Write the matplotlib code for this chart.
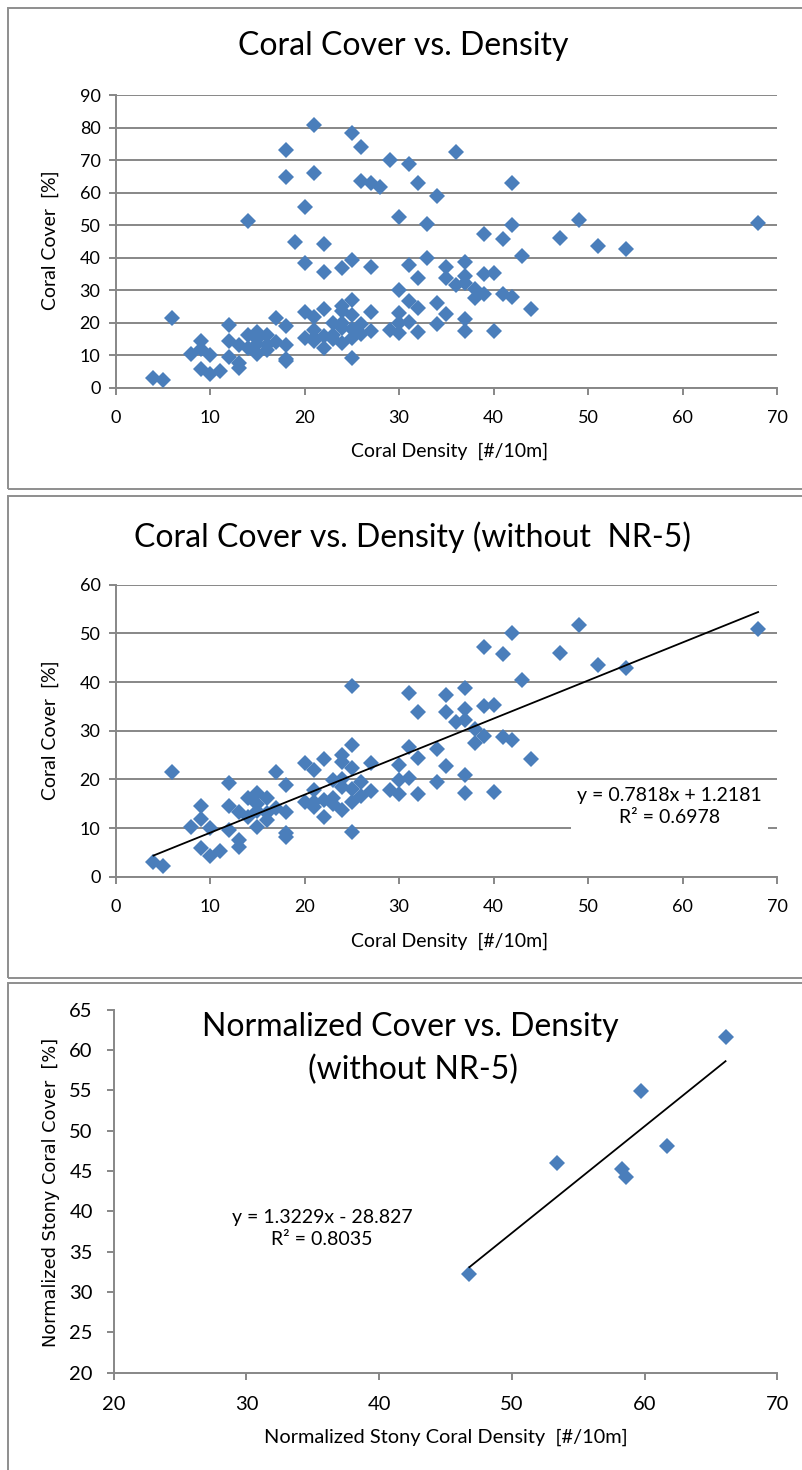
import matplotlib
matplotlib.use("Agg")
import matplotlib.pyplot as plt
from matplotlib.patches import Rectangle

# ---------------------------------------------------------------------------
# Survey data: coral density [#/10m] and coral cover [%] per transect
# ---------------------------------------------------------------------------
# Transects from all sites except NR-5
density = [4, 5, 6, 8,
           9, 9, 9,
           10, 10, 11,
           12, 12, 12,
           13, 13, 13,
           14, 14,
           15, 15, 15, 15,
           16, 16, 16,
           17, 17,
           18, 18, 18, 18,
           20, 20,
           21, 21, 21, 21,
           22, 22, 22,
           23, 23, 23,
           24, 24, 24, 24, 24,
           25, 25, 25, 25, 25, 25,
           26, 26, 27, 27, 29,
           30, 30, 30,
           31, 31, 31,
           32, 32, 32,
           34, 34,
           35, 35, 35, 36,
           37, 37, 37, 37, 37,
           38, 38,
           39, 39, 39,
           40, 40, 41, 41, 42, 42,
           43, 44, 47, 49, 51, 54, 68]
cover = [3.1, 2.3, 21.5, 10.3,
         14.5, 11.8, 5.8,
         10.0, 4.2, 5.2,
         19.2, 14.5, 9.6,
         13.2, 7.5, 6.2,
         16.1, 12.3,
         17.2, 15.0, 13.4, 10.3,
         16.2, 13.0, 11.6,
         21.5, 14.1,
         18.9, 13.2, 8.9, 8.2,
         23.3, 15.4,
         21.9, 17.8, 15.4, 14.3,
         24.2, 15.8, 12.3,
         19.9, 16.2, 15.0,
         25.0, 23.5, 20.0, 18.5, 13.7,
         39.2, 27.0, 22.4, 18.0, 15.3, 9.2,
         19.5, 16.5, 23.3, 17.6, 17.8,
         23.0, 19.9, 16.9,
         37.7, 26.7, 20.2,
         33.9, 24.4, 17.0,
         26.2, 19.5,
         37.3, 33.9, 22.7, 31.7,
         38.7, 34.4, 32.2, 21.0, 17.3,
         30.3, 27.5,
         47.3, 35.0, 28.9,
         35.2, 17.5, 45.8, 28.8, 50.1, 28.0,
         40.5, 24.1, 46.0, 51.7, 43.6, 42.8, 50.8]

# Transects from site NR-5
density_nr5 = [14, 18, 18, 19, 20, 20, 21, 21, 22, 22,
               24, 25, 26, 26, 27, 27, 28, 29, 30, 30,
               31, 32, 33, 33, 34, 36, 42]
cover_nr5 = [51.4, 73.3, 64.7, 44.9, 55.5, 38.3, 80.8, 66.0, 44.2, 35.7,
             36.7, 78.5, 74.2, 63.7, 62.9, 37.2, 61.9, 70.0, 52.6, 30.0,
             69.0, 63.1, 50.4, 39.8, 59.0, 72.6, 63.1]

# Site means normalised for stony corals (without NR-5)
norm_density = [46.8, 53.4, 58.3, 58.6, 59.7, 61.7, 66.1]
norm_cover = [32.2, 46.0, 45.3, 44.2, 54.9, 48.1, 61.6]

# Linear trend lines (least squares)
fit_all = {"slope": 0.7818, "intercept": 1.2181, "r2": 0.6978}
fit_norm = {"slope": 1.3229, "intercept": -28.827, "r2": 0.8035}

x_ticks_density = [0, 10, 20, 30, 40, 50, 60, 70]
y_ticks_cover_all = [0, 10, 20, 30, 40, 50, 60, 70, 80, 90]
y_ticks_cover = [0, 10, 20, 30, 40, 50, 60]
x_ticks_norm = [20, 30, 40, 50, 60, 70]
y_ticks_norm = [20, 25, 30, 35, 40, 45, 50, 55, 60, 65]

# ---------------------------------------------------------------------------
# Styling
# ---------------------------------------------------------------------------
FONT = "Lato"
BLUE = "#4A7EBB"
GRAY = "#878787"
FRAME = "#8E8E8E"
plt.rcParams["font.family"] = [FONT, "DejaVu Sans"]

W, H = 803, 1470
fig = plt.figure(figsize=(W / 100, H / 100), dpi=100)
fig.patch.set_facecolor("white")


def axes_px(left, top, right, bottom):
    """Axes placed by pixel edges measured from the top-left corner."""
    return fig.add_axes([left / W, 1 - bottom / H, (right - left) / W, (bottom - top) / H])


def text_px(x, y, s, **kw):
    kw.setdefault("ha", "center")
    kw.setdefault("va", "center")
    return fig.text(x / W, 1 - y / H, s, **kw)


def frame_px(left, top, right, bottom):
    fig.add_artist(Rectangle((left / W, 1 - bottom / H), (right - left) / W,
                             (bottom - top) / H, transform=fig.transFigure,
                             fill=False, edgecolor=FRAME, linewidth=1.4))


def style_axes(ax, grid, labelsize, xpad, ypad):
    for side in ("top", "right"):
        ax.spines[side].set_visible(False)
    for side in ("left", "bottom"):
        ax.spines[side].set_color(GRAY)
        ax.spines[side].set_linewidth(1.4)
    ax.tick_params(direction="out", length=5, width=1.4, color=GRAY,
                   labelsize=labelsize)
    ax.tick_params(axis="x", pad=xpad)
    ax.tick_params(axis="y", pad=ypad)
    if grid:
        ax.yaxis.grid(True, color=GRAY, linewidth=1.4)
    ax.set_axisbelow(True)


def scatter(ax, x, y):
    ax.plot(x, y, linestyle="none", marker="D", markersize=7.8,
            color=BLUE, markeredgewidth=0, zorder=3)


def trend(ax, fit, x):
    lo, hi = min(x), max(x)
    ax.plot([lo, hi], [fit["slope"] * lo + fit["intercept"],
                       fit["slope"] * hi + fit["intercept"]],
            color="black", linewidth=1.3, zorder=4)


def equation(fit):
    sign = "+" if fit["intercept"] >= 0 else "-"
    return (f"y = {fit['slope']:.4f}x {sign} {abs(fit['intercept']):g}\n"
            f"R² = {fit['r2']:.4f}")


# Panel frames
frame_px(8, 8, 812, 489)
frame_px(8, 496, 812, 978)
frame_px(8, 983, 812, 1480)

TITLE = 23
LABEL = 14

# ---------------------------------------------------------------------------
# 1) Coral cover vs. density, all transects
# ---------------------------------------------------------------------------
ax1 = axes_px(115.7, 95.3, 777, 387.7)
scatter(ax1, density + density_nr5, cover + cover_nr5)
ax1.set_xlim(0, 70)
ax1.set_ylim(0, 90)
ax1.set_xticks(x_ticks_density)
ax1.set_yticks(y_ticks_cover_all)
style_axes(ax1, True, 13, 11, 6)
text_px(403, 46, "Coral Cover vs. Density", fontsize=TITLE)
text_px(450, 451, "Coral Density  [#/10m]", fontsize=LABEL)
text_px(50, 240, "Coral Cover  [%]", fontsize=LABEL, rotation=90)

# ---------------------------------------------------------------------------
# 2) Coral cover vs. density without NR-5, with trend line
# ---------------------------------------------------------------------------
ax2 = axes_px(115.7, 584.7, 777, 876.7)
scatter(ax2, density, cover)
trend(ax2, fit_all, density)
ax2.set_xlim(0, 70)
ax2.set_ylim(0, 60)
ax2.set_xticks(x_ticks_density)
ax2.set_yticks(y_ticks_cover)
style_axes(ax2, True, 13, 11, 6)
ax2.text(58.6, 14.4, equation(fit_all), fontsize=14, ha="center", va="center",
         linespacing=1.4, zorder=5,
         bbox=dict(boxstyle="square,pad=0.33", facecolor="white", edgecolor="none"))
text_px(412, 537, "Coral Cover vs. Density (without  NR-5)", fontsize=TITLE)
text_px(450, 941, "Coral Density  [#/10m]", fontsize=LABEL)
text_px(50, 730, "Coral Cover  [%]", fontsize=LABEL, rotation=90)

# ---------------------------------------------------------------------------
# 3) Normalised stony coral cover vs. density
# ---------------------------------------------------------------------------
ax3 = axes_px(113.7, 1009.7, 777.3, 1372.7)
scatter(ax3, norm_density, norm_cover)
trend(ax3, fit_norm, norm_density)
ax3.set_xlim(20, 70)
ax3.set_ylim(20, 65)
ax3.set_xticks(x_ticks_norm)
ax3.set_yticks(y_ticks_norm)
style_axes(ax3, False, 14.5, 12, 10)
ax3.text(35.7, 37.9, equation(fit_norm), fontsize=14, ha="center", va="center",
         linespacing=1.4, zorder=5)
text_px(410, 1027, "Normalized Cover vs. Density", fontsize=TITLE)
text_px(413, 1070, "(without NR-5)", fontsize=TITLE)
text_px(446, 1437, "Normalized Stony Coral Density  [#/10m]", fontsize=14.4)
text_px(51, 1192, "Normalized Stony Coral Cover  [%]", fontsize=12.8,
        rotation=90, family="DejaVu Sans")

fig.savefig("out.png", dpi=100, facecolor="white")
